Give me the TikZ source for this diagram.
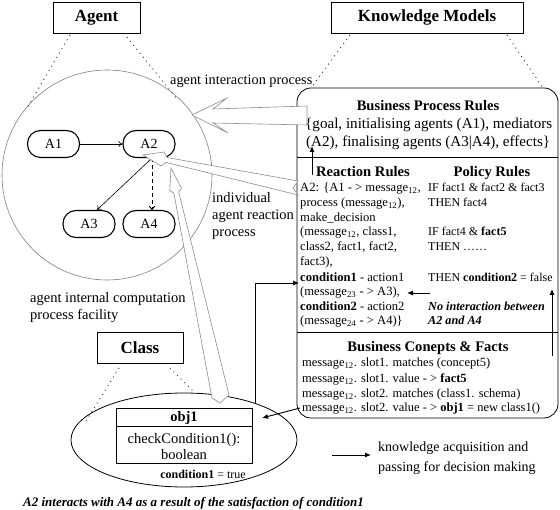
\documentclass[tikz,border=0pt]{standalone}
\usepackage{fontspec}
\setmainfont{Liberation Serif}
\usetikzlibrary{arrows.meta,shapes.geometric}
\begin{document}
\begin{tikzpicture}[x=1pt,y=-1pt,
  titlebox/.style={draw, line width=0.9pt, font=\fontsize{17}{20}\selectfont\bfseries, inner sep=0pt},
  agentnode/.style={draw, line width=1.1pt, rounded corners=13pt, minimum width=52pt, minimum height=27pt, font=\fontsize{14}{16}\selectfont, inner sep=0pt},
  dots/.style={line width=1pt, dash pattern=on 0.9pt off 4.2pt, black!80},
  hollow/.style={draw=black!45, fill=white, line width=0.6pt, line join=miter},
  conn/.style={line width=0.9pt, -{Latex[length=6pt,width=5pt]}},
  thinarr/.style={line width=0.6pt, -{To[length=4pt,width=6pt]}},
  txt/.style={anchor=base west, inner sep=0pt, font=\fontsize{12.6}{15}\selectfont},
  ptxt/.style={anchor=base west, inner sep=0pt, font=\fontsize{12}{15}\selectfont},
  ctxt/.style={anchor=base west, inner sep=0pt, font=\fontsize{12.5}{15}\selectfont},
  lbl/.style={anchor=base west, inner sep=0pt, font=\fontsize{14.5}{17}\selectfont},
  head/.style={anchor=base, inner sep=0pt, font=\fontsize{14.6}{17}\selectfont\bfseries},
  body/.style={anchor=base west, inner sep=0pt, font=\fontsize{15.1}{18}\selectfont}
]
\useasboundingbox (0,0) rectangle (560,510);

% title boxes
\node[titlebox, minimum width=87pt, minimum height=31pt] (agent) at (96.5,17.5) {Agent};
\node[titlebox, minimum width=192pt, minimum height=31pt] (km) at (427,17.5) {Knowledge Models};
\node[titlebox, minimum width=86pt, minimum height=31pt] (class) at (140,347.5) {Class};

% agent circle
\node[draw=black!50, line width=0.6pt, circle, minimum size=210pt, inner sep=0pt] (circ) at (107,175) {};

% dotted lines
\coordinate (d1) at (70,35); \coordinate (d2) at (27,108);
\coordinate (d3) at (127,37); \coordinate (d4) at (177,99);
\coordinate (d5) at (350,35); \coordinate (d6) at (311,88);
\coordinate (d7) at (507,35); \coordinate (d8) at (543,88);
\coordinate (d9) at (119,368); \coordinate (d10) at (86,421);
\coordinate (d11) at (170,368); \coordinate (d12) at (193,391);
\draw[dots] (d1) -- (d2); \draw[dots] (d3) -- (d4);
\draw[dots] (d5) -- (d6); \draw[dots] (d7) -- (d8);
\draw[dots] (d9) -- (d10); \draw[dots] (d11) -- (d12);

% knowledge box
\draw[line width=0.8pt, rounded corners=14pt] (297,88) rectangle (558,418);
\draw[line width=0.8pt] (297,157) -- (558,157);
\draw[line width=0.8pt] (297,332) -- (558,332);

% business process rules
\node[head] (bpr) at (428,111) {Business Process Rules};
\node[body] (bpr1) at (305,129) {\{goal, initialising agents (A1), mediators};
\node[body] (bpr2) at (306,147) {(A2), finalising agents (A3|A4), effects\}};

% reaction / policy
\node[head] (rrh) at (363,177) {Reaction Rules};
\node[head] (prh) at (492,177) {Policy Rules};
\node[txt] (r1) at (300,192) {A2: \{A1 - > message\textsubscript{12},};
\node[txt] (r2) at (300,207) {process (message\textsubscript{12}),};
\node[txt] (r3) at (300,222) {make\_decision};
\node[txt] (r4) at (300,236) {(message\textsubscript{12}, class1,};
\node[txt] (r5) at (300,251) {class2, fact1, fact2,};
\node[txt] (r6) at (300,266) {fact3),};
\node[txt] (r7) at (300,282) {\textbf{condition1} - action1};
\node[txt] (r8) at (300,296) {(message\textsubscript{23} - > A3),};
\node[txt] (r9) at (300,311) {\textbf{condition2} - action2};
\node[txt] (r10) at (300,325) {(message\textsubscript{24} - > A4)\}};
\node[ptxt] (p1) at (428,192) {IF fact1 \& fact2 \& fact3};
\node[ptxt] (p2) at (428,207) {THEN fact4};
\node[ptxt] (p4) at (428,236) {IF fact4 \& \textbf{fact5}};
\node[ptxt] (p5) at (428,251) {THEN ……};
\node[ptxt] (p7) at (428,282) {THEN \textbf{condition2} = false};
\node[ptxt, font=\fontsize{12.2}{15}\selectfont\bfseries\itshape] (p9) at (428,311) {No interaction between};
\node[ptxt, font=\fontsize{12.2}{15}\selectfont\bfseries\itshape] (p10) at (428,325) {A2 and A4};

% business concepts
\node[head] (bcf) at (428,352) {Business Conepts \& Facts};
\node[ctxt] (c1) at (302,367) {message\textsubscript{12}. slot1. matches (concept5)};
\node[ctxt] (c2) at (302,383) {message\textsubscript{12}. slot1. value - > \textbf{fact5}};
\node[ctxt] (c3) at (302,398) {message\textsubscript{12}. slot2. matches (class1. schema)};
\node[ctxt] (c4) at (302,412) {message\textsubscript{12}. slot2. value - > \textbf{obj1} = new class1()};

% agents
\node[agentnode] (A1) at (53.5,144) {A1};
\node[agentnode] (A2) at (149,144) {A2};
\node[agentnode] (A3) at (89,224) {A3};
\node[agentnode] (A4) at (149,224) {A4};
\draw[thinarr] (A1) -- (A2);
\draw[thinarr] ([xshift=3pt]A2.south) -- ([xshift=8pt]A3.north);
\draw[thinarr, dashed, line width=1pt, dash pattern=on 4pt off 3pt] ([xshift=3pt]A2.south) -- ([xshift=3pt]A4.north);

% class ellipse and object
\node[draw, ellipse, line width=0.8pt, minimum width=226pt, minimum height=94pt, inner sep=0pt] (ell) at (184,440) {};
\node[draw, line width=0.8pt, minimum width=136pt, minimum height=55pt, inner sep=0pt] (obj) at (184,435.5) {};
\draw[line width=0.8pt] (116,426) -- (252,426);
\node[anchor=base, inner sep=0pt, font=\fontsize{14.5}{16}\selectfont\bfseries] (objn) at (184,422) {obj1};
\node[anchor=base, inner sep=0pt, font=\fontsize{14.5}{16}\selectfont] (chk) at (184,444) {checkCondition1():};
\node[anchor=base, inner sep=0pt, font=\fontsize{14.5}{16}\selectfont] (bool) at (184,460) {boolean};
\node[anchor=base, inner sep=0pt, font=\fontsize{12}{14}\selectfont] (ct) at (203,479) {\textbf{condition1} = true};

% hollow arrows
\draw[hollow] (192,115) -- (227,98) -- (213,109) -- (307,106) -- (307,125) -- (213,123) -- (228,133) -- cycle;
\draw[hollow] (143,155) -- (164,152) -- (167,157.5) -- (298,181) -- (293,188) -- (298,195) -- (166,162.4) -- (161,166) -- cycle;
\draw[hollow] (171,168) -- (181.5,188.3) -- (178.7,191.9) -- (229,395) -- (220,403) -- (212,398) -- (173.8,192.9) -- (169.7,190.7) -- cycle;

% labels
\node[lbl, font=\fontsize{14.3}{17}\selectfont] (lai) at (170,85) {agent interaction process};
\node[lbl] (lr1) at (212,203) {individual};
\node[lbl] (lr2) at (212,220) {agent reaction};
\node[lbl] (lr3) at (212,237) {process};
\node[lbl] (lc1) at (30,303) {agent internal computation};
\node[lbl] (lc2) at (30,320) {process facility};

% connectors
\coordinate (bu0) at (312,175); \coordinate (bu1) at (312,146);
\draw[conn] (bu0) -- (bu1);
\coordinate (pa0) at (430,293); \coordinate (pa1) at (407,293);
\draw[conn] (pa0) -- (pa1);
\coordinate (ua0) at (552,356); \coordinate (ua1) at (552,289);
\draw[conn] (ua0) -- (ua1);
\coordinate (ka0) at (300,408); \coordinate (ka1) at (262,418);
\draw[conn] (ka0) -- (ka1);
\coordinate (cc0) at (255,404); \coordinate (cc1) at (299,283);
\draw[conn] (cc0) |- (cc1);

% legend
\coordinate (lg0) at (332,455); \coordinate (lg1) at (371,455);
\draw[conn] (lg0) -- (lg1);
\node[anchor=base west, inner sep=0pt, font=\fontsize{14}{16}\selectfont] (lg2) at (378,452) {knowledge acquisition and};
\node[anchor=base west, inner sep=0pt, font=\fontsize{14}{16}\selectfont] (lg3) at (378,472) {passing for decision making};

% caption
\node[anchor=base west, inner sep=0pt, font=\fontsize{13}{15}\selectfont\bfseries\itshape] (cap) at (23,507) {A2 interacts with A4 as a result of the satisfaction of condition1};
\end{tikzpicture}
\end{document}
